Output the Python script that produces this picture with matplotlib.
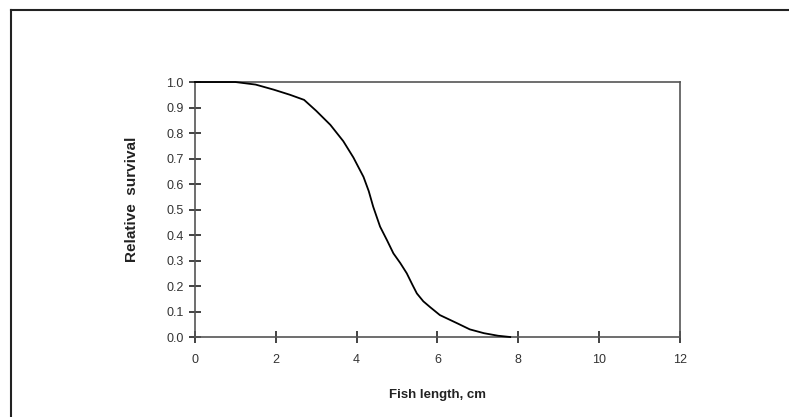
import matplotlib
matplotlib.use("Agg")
import matplotlib.pyplot as plt
from matplotlib.lines import Line2D

plt.rcParams['font.family'] = ['Liberation Sans', 'DejaVu Sans']

length_cm = [0.0, 1.0, 1.5, 1.95, 2.35, 2.7, 3.0, 3.35, 3.67, 3.92, 4.17, 4.3,
             4.41, 4.58, 4.75, 4.91, 5.08, 5.24, 5.38, 5.49, 5.65, 5.82, 6.06,
             6.3, 6.5, 6.8, 7.15, 7.5, 7.8]
survival = [1.0, 1.0, 0.99, 0.97, 0.95, 0.93, 0.887, 0.832, 0.768, 0.704, 0.628,
            0.572, 0.511, 0.433, 0.38, 0.328, 0.29, 0.25, 0.205, 0.171, 0.14,
            0.117, 0.086, 0.068, 0.053, 0.03, 0.015, 0.005, 0.0]
x_ticks = [0, 2, 4, 6, 8, 10, 12]
y_ticks = [0.0, 0.1, 0.2, 0.3, 0.4, 0.5, 0.6, 0.7, 0.8, 0.9, 1.0]

fig = plt.figure(figsize=(7.89, 4.17), dpi=100)
ax = fig.add_axes([0.2471, 0.1918, 0.6147, 0.6115])

ax.plot(length_cm, survival, color='black', linewidth=1.3, clip_on=False, zorder=3)
ax.set_xlim(0, 12)
ax.set_ylim(0, 1.0)
ax.set_xticks(x_ticks)
ax.set_xticklabels([str(v) for v in x_ticks])
ax.set_yticks(y_ticks)
ax.set_yticklabels([f"{v:.1f}" for v in y_ticks])

for s in ax.spines.values():
    s.set_color('#555555')
    s.set_linewidth(1.2)

ax.tick_params(axis='x', direction='inout', length=9, width=1.2, color='#222222',
               labelsize=9, pad=8, labelcolor='#333333')
ax.tick_params(axis='y', direction='inout', length=8, width=1.2, color='#222222',
               labelsize=9, pad=4, labelcolor='#333333')

ax.set_xlabel("Fish length, cm", fontsize=9.5, fontweight='bold', labelpad=16, color='#222222')
ax.set_ylabel("Relative  survival", fontsize=11, fontweight='bold', color='#222222')
ax.yaxis.set_label_coords(-0.115, 0.54)

# outer frame (partially visible)
fig.add_artist(Line2D([11/789, 11/789], [0, 1 - 10/417], transform=fig.transFigure,
                      color='#222222', linewidth=1.5))
fig.add_artist(Line2D([11/789, 1], [1 - 10/417, 1 - 10/417], transform=fig.transFigure,
                      color='#222222', linewidth=1.5))

fig.savefig("out.png", dpi=100)
